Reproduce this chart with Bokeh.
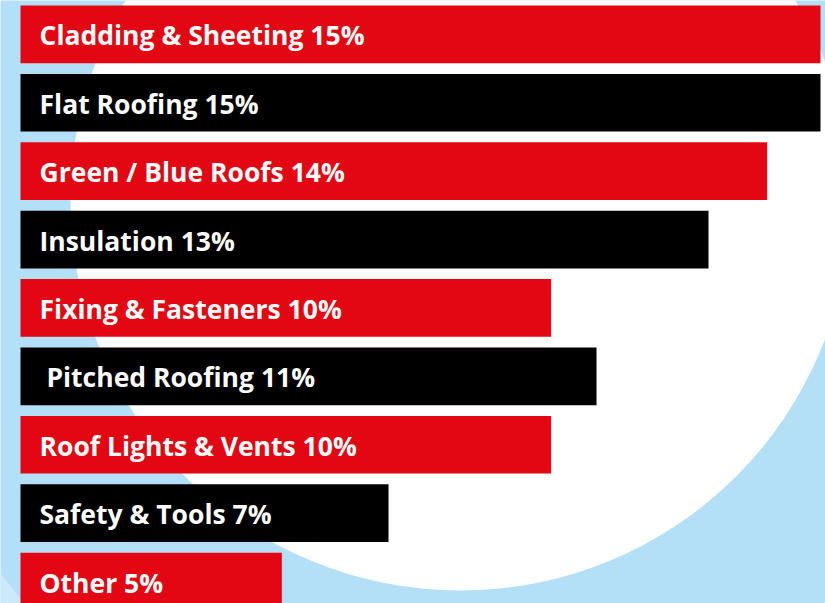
from bokeh.plotting import figure
from bokeh.models import Range1d, ColumnDataSource
from bokeh.core.properties import value
from bokeh.embed import file_html
from bokeh.resources import INLINE

# ---- data ----
categories = ["Cladding & Sheeting", "Flat Roofing", "Green / Blue Roofs", "Insulation",
              "Fixing & Fasteners", "\u00a0Pitched Roofing", "Roof Lights & Vents",
              "Safety & Tools", "Other"]
share_labels = ["15%", "15%", "14%", "13%", "10%", "11%", "10%", "7%", "5%"]
bar_values = [15.0, 15.0, 14.0, 12.9, 9.95, 10.8, 9.95, 6.9, 4.9]
bar_colors = ["#e30613", "#000000"] * 4 + ["#e30613"]

W, H = 825, 603
PX_PER_UNIT = 53.333
LEFT_PX = 20
ROW_PX = 68.4
FIRST_CENTER_PX = 33.85

rows = list(range(len(categories)))
labels = [c + " " + s for c, s in zip(categories, share_labels)]
src = ColumnDataSource(dict(y=rows, right=bar_values, color=bar_colors,
                            label=labels, x0=[0] * len(rows)))

x0 = -LEFT_PX / PX_PER_UNIT
x1 = (W - LEFT_PX) / PX_PER_UNIT
y_top = -FIRST_CENTER_PX / ROW_PX
y_bot = (H - FIRST_CENTER_PX) / ROW_PX

p = figure(width=W, height=H, output_backend="svg", toolbar_location=None,
           x_range=Range1d(x0, x1), y_range=Range1d(y_bot, y_top),
           min_border=0, min_border_left=0, min_border_right=0,
           min_border_top=0, min_border_bottom=0)
p.axis.visible = False
p.grid.visible = False
p.outline_line_color = None
p.background_fill_color = "#b3e0f7"
p.border_fill_color = "#b3e0f7"

# decorative lighter wedge bottom-left
p.patch(x=[x0, x0 + 20 / PX_PER_UNIT, x0 + 60 / PX_PER_UNIT, x0],
        y=[(573 - FIRST_CENTER_PX) / ROW_PX, (598 - FIRST_CENTER_PX) / ROW_PX,
           (660 - FIRST_CENTER_PX) / ROW_PX, (660 - FIRST_CENTER_PX) / ROW_PX],
        fill_color="#cbe9fa", line_color=None)

# decorative white circle
p.ellipse(x=[(460 - LEFT_PX) / PX_PER_UNIT], y=[(200 - FIRST_CENTER_PX) / ROW_PX],
          width=780, height=780, width_units="screen", height_units="screen",
          fill_color="white", line_color=None)

p.hbar(y="y", left="x0", right="right", height=57.7 / ROW_PX, color="color",
       line_color=None, source=src)

p.text(x="x0", y="y", text="label", source=src, x_offset=19, y_offset=1,
       text_color="white", text_font=value("Open Sans"), text_font_style="bold",
       text_font_size="26.5px", text_baseline="middle", text_align="left")

open("out.html", "w").write(file_html(p, INLINE))
